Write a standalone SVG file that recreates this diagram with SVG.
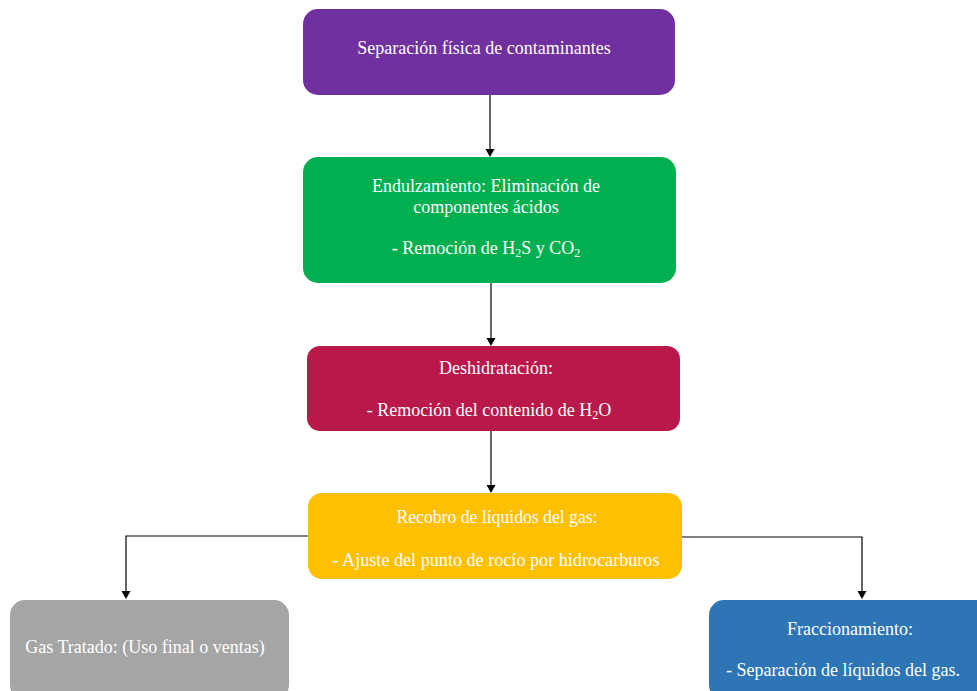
<svg xmlns="http://www.w3.org/2000/svg" width="977" height="691" viewBox="0 0 977 691">
<defs>
<style>
.t{font-family:"Liberation Serif","Times New Roman",serif;font-size:18px;fill:#ffffff;text-anchor:middle}
.c{fill:none;stroke:#000;stroke-width:1.2}
.h{fill:#000;stroke:none}
.sub{font-size:12px}
</style>
</defs>
<rect width="977" height="691" fill="#ffffff"/>
<g id="connectors">
<line class="c" x1="490" y1="95" x2="490" y2="150"/>
<path class="h" d="M490,157 l-4.5,-8 h9 z"/>
<line class="c" x1="491" y1="283" x2="491" y2="340"/>
<path class="h" d="M491,346 l-4.5,-8 h9 z"/>
<line class="c" x1="491" y1="431" x2="491" y2="487"/>
<path class="h" d="M491,493 l-4.5,-8 h9 z"/>
<polyline class="c" points="308,536 126,536 126,593"/>
<path class="h" d="M126,599 l-4.5,-8 h9 z"/>
<polyline class="c" points="682,537 862,537 862,593"/>
<path class="h" d="M862,599 l-4.5,-8 h9 z"/>
</g>
<g id="n1">
<rect x="303" y="9" width="372" height="86" rx="15" fill="#7030A0"/>
<text class="t" x="484" y="54">Separación física de contaminantes</text>
</g>
<g id="n2">
<rect x="303" y="157" width="373" height="126" rx="15" fill="#00B050"/>
<text class="t" x="486" y="192">Endulzamiento: Eliminación de</text>
<text class="t" x="486" y="213">componentes ácidos</text>
<text class="t" x="486" y="254">- Remoción de H<tspan class="sub" dy="3">2</tspan><tspan dy="-3">S y CO</tspan><tspan class="sub" dy="3">2</tspan></text>
</g>
<g id="n3">
<rect x="307" y="346" width="373" height="85" rx="13" fill="#B8194A"/>
<text class="t" x="496" y="374">Deshidratación:</text>
<text class="t" x="489" y="416">- Remoción del contenido de H<tspan class="sub" dy="3">2</tspan><tspan dy="-3">O</tspan></text>
</g>
<g id="n4">
<rect x="308" y="493" width="374" height="86" rx="14" fill="#FFC000"/>
<text class="t" x="497" y="523" textLength="201" lengthAdjust="spacingAndGlyphs">Recobro de líquidos del gas:</text>
<text class="t" x="496" y="566" textLength="327" lengthAdjust="spacingAndGlyphs">-  Ajuste del punto de rocío por hidrocarburos</text>
</g>
<g id="n5">
<rect x="10" y="600" width="279" height="100" rx="15" fill="#A5A5A5"/>
<text class="t" x="145" y="653">Gas Tratado: (Uso final o ventas)</text>
</g>
<g id="n6">
<rect x="709" y="600" width="290" height="100" rx="15" fill="#2E75B6"/>
<text class="t" x="850" y="635">Fraccionamiento:</text>
<text class="t" x="843" y="676">- Separación de líquidos del gas.</text>
</g>
</svg>
